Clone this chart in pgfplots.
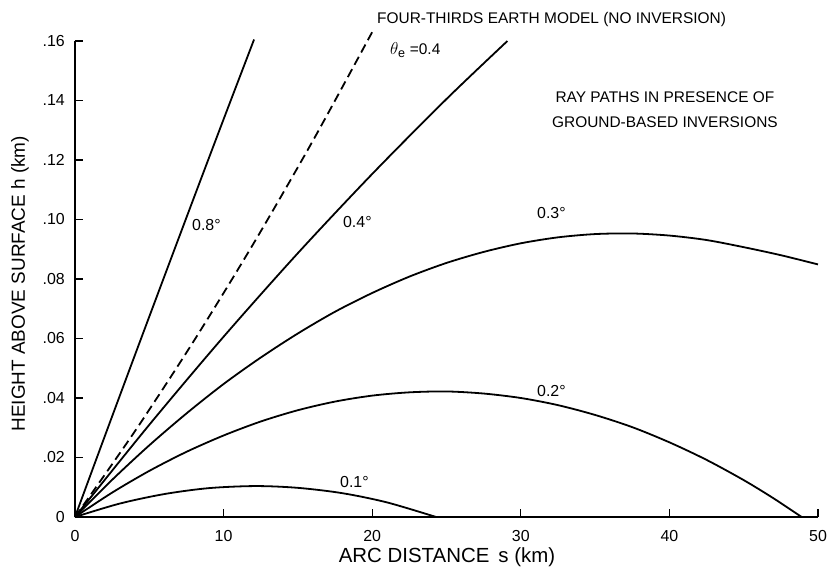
\documentclass[border=0pt]{standalone}
\usepackage{fontspec}
\setmainfont{Liberation Sans}
\usepackage{pgfplots}
\pgfplotsset{compat=1.18}

\begin{document}
\begin{tikzpicture}
\useasboundingbox (-75bp,-54bp) rectangle (756bp,517bp);
\begin{axis}[
  at={(0,0)}, anchor=south west,
  scale only axis, width=743bp, height=476bp,
  xmin=0, xmax=50, ymin=0, ymax=0.16,
  clip=false,
  axis x line*=bottom, axis y line*=left,
  axis line style={line width=1.3bp, black},
  xtick={0,10,20,30,40,50},
  xticklabels={0,10,20,30,40,50},
  ytick={0,0.02,0.04,0.06,0.08,0.10,0.12,0.14,0.16},
  yticklabels={0,.02,.04,.06,.08,.10,.12,.14,.16},
  tick align=inside, major tick length=8bp,
  tick style={line width=1.3bp, black},
  ticklabel style={font=\fontsize{16}{18}\selectfont},
  xticklabel style={anchor=north, inner sep=0pt, yshift=-13bp},
  yticklabel style={anchor=east, inner sep=0pt, xshift=-10bp},
  xlabel={ARC DISTANCE\, s (km)},
  ylabel={HEIGHT ABOVE SURFACE h (km)},
  xlabel style={font=\fontsize{20.5}{24}\selectfont, at={(axis description cs:0.5007,-0.084)}, anchor=center},
  ylabel style={font=\fontsize{19}{22}\selectfont, at={(axis description cs:-0.074,0.49)}, anchor=center},
  ray/.style={black, solid, no markers, line width=1.8bp, smooth},
]
% 0.8 deg ray
\addplot[ray] coordinates {(0,0) (2,0.0271) (4,0.0540) (6,0.0807) (8,0.1073)
  (10,0.1337) (12.05,0.1605)};
% four-thirds earth model, theta_e = 0.4
\addplot[ray, dash pattern=on 9bp off 5bp] coordinates {(0,0) (4,0.0286) (8,0.0592)
  (12,0.0918) (16,0.1264) (20,0.163)};
% 0.4 deg ray
\addplot[ray] coordinates {(0,0) (5,0.0310) (10,0.0606) (15,0.0887) (20,0.1153)
  (25,0.1405) (29.1,0.1600)};
% 0.3 deg ray
\addplot[ray] coordinates {(0,0) (2.5,0.0125) (5,0.0241) (7.5,0.0348) (10,0.0447)
  (12.5,0.0536) (15,0.0617) (17.5,0.0690) (20,0.0753) (22.5,0.0808) (25,0.0854)
  (27.5,0.0891) (30,0.0920) (32.5,0.0940) (35,0.0951) (37.5,0.0953) (40,0.0946)
  (42.5,0.0931) (45,0.0907) (47.5,0.0880) (50,0.0849)};
% 0.2 deg ray
\addplot[ray] coordinates {(0,0) (2.5,0.0082) (5,0.0155) (7.5,0.0219) (10,0.0274)
  (12.5,0.0321) (15,0.0359) (17.5,0.0388) (20,0.0408) (22.5,0.0419) (25,0.0422)
  (27.5,0.0415) (30,0.0400) (32.5,0.0376) (35,0.0343) (37.5,0.0302) (40,0.0251)
  (42.5,0.0192) (45,0.0124) (47,0.0063) (48.9,0)};
% 0.1 deg ray
\addplot[ray] coordinates {(0,0) (3,0.0045) (6,0.0077) (9,0.0097) (12.15,0.0104)
  (15,0.0098) (18,0.0080) (21,0.0049) (24.3,0)};

\begin{scope}[every node/.style={font=\fontsize{16}{18}\selectfont, inner sep=0pt}]
\node[anchor=west] at (axis cs:7.87,0.0982) {0.8°};
\node[anchor=west] at (axis cs:18.03,0.0992) {0.4°};
\node[anchor=west] at (axis cs:31.09,0.1022) {0.3°};
\node[anchor=west] at (axis cs:31.09,0.0424) {0.2°};
\node[anchor=west] at (axis cs:17.83,0.0118) {0.1°};
\end{scope}
\begin{scope}[every node/.style={font=\fontsize{15.5}{18}\selectfont, inner sep=0pt}]
\node[anchor=west] at (axis cs:20.32,0.1671) {FOUR-THIRDS EARTH MODEL (NO INVERSION)};
\node[anchor=west] at (axis cs:21.2,0.157) {\fontsize{18}{20}\selectfont$\theta_{\mathrm{e}}$\fontsize{15.5}{18}\selectfont\ =0.4};
\node at (axis cs:39.7,0.1412) {RAY PATHS IN PRESENCE OF};
\node at (axis cs:39.7,0.1328) {GROUND-BASED INVERSIONS};
\end{scope}
\end{axis}
\end{tikzpicture}
\end{document}
